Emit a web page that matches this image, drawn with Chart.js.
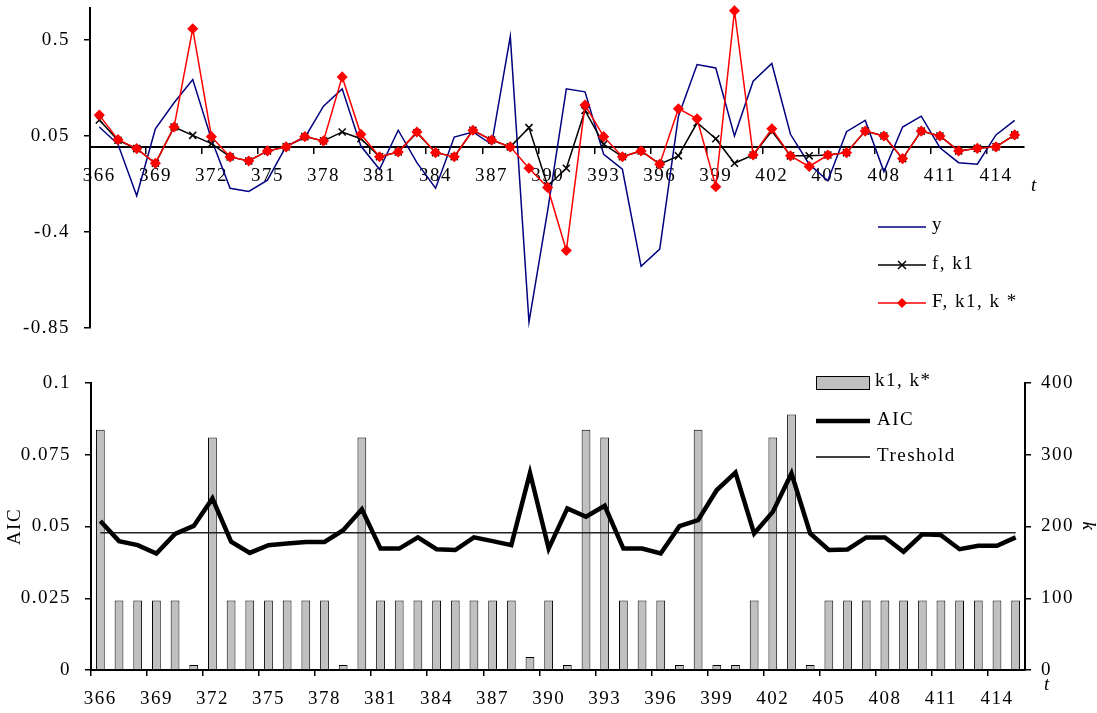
<!DOCTYPE html>
<html>
<head>
<meta charset="utf-8">
<script src="https://cdn.jsdelivr.net/npm/chart.js@4"></script>
<style>
    body { margin: 0; background: #fff; }
    #wrap { position: relative; width: 1097px; height: 713px; }
    canvas { position: absolute; left: 0; }
    #topChart { top: 0; }
    #bottomChart { top: 340px; }
</style>
</head>
<body>
<div id="wrap">
    <canvas id="topChart" width="1097" height="340"></canvas>
    <canvas id="bottomChart" width="1097" height="373"></canvas>
</div>
<script>
const tLabels = [
    "366", "367", "368", "369", "370", "371", "372", "373", "374", "375",
    "376", "377", "378", "379", "380", "381", "382", "383", "384", "385",
    "386", "387", "388", "389", "390", "391", "392", "393", "394", "395",
    "396", "397", "398", "399", "400", "401", "402", "403", "404", "405",
    "406", "407", "408", "409", "410", "411", "412", "413", "414", "415",
];

// top panel
const ySeries = [
    0.092, 0.011, -0.23, 0.084, 0.206, 0.315, 0.035, -0.195, -0.21, -0.157,
    0.003, 0.042, 0.19, 0.271, 0.003, -0.106, 0.077, -0.075, -0.195, 0.045,
    0.069, 0.011, 0.517, -0.822, -0.3, 0.271, 0.257, -0.036, -0.106, -0.561,
    -0.48, 0.143, 0.385, 0.369, 0.05, 0.307, 0.39, 0.058, -0.082, -0.16,
    0.07, 0.123, -0.117, 0.092, 0.143, -0.005, -0.075, -0.082, 0.055, 0.123,
];
const fK1 = [
    0.125, 0.03, -0.009, -0.078, 0.092, 0.053, 0.014, -0.048, -0.067, -0.02,
    -0.001, 0.047, 0.027, 0.069, 0.037, -0.047, -0.025, 0.065, -0.028, -0.047,
    0.077, 0.031, -0.001, 0.089, -0.184, -0.101, 0.17, 0.011, -0.047, -0.02,
    -0.082, -0.043, 0.112, 0.037, -0.078, -0.039, 0.073, -0.043, -0.043, -0.039,
    -0.028, 0.073, 0.05, -0.056, 0.073, 0.05, -0.02, -0.008, -0.001, 0.055,
];
const fK1Kstar = [
    0.148, 0.033, -0.009, -0.078, 0.092, 0.553, 0.047, -0.048, -0.067, -0.02,
    -0.001, 0.047, 0.027, 0.327, 0.058, -0.047, -0.025, 0.069, -0.028, -0.047,
    0.077, 0.031, -0.001, -0.101, -0.191, -0.487, 0.195, 0.047, -0.047, -0.02,
    -0.082, 0.178, 0.131, -0.188, 0.637, -0.039, 0.084, -0.043, -0.093, -0.039,
    -0.028, 0.073, 0.05, -0.056, 0.073, 0.05, -0.02, -0.008, -0.001, 0.055,
];
const topYTicks = [-0.85, -0.4, 0.05, 0.5];

// bottom panel
const kValues = [
    335, 97, 97, 97, 97, 7, 324, 97, 97, 97,
    97, 97, 97, 7, 324, 97, 97, 97, 97, 97,
    97, 97, 97, 18, 97, 7, 335, 324, 97, 97,
    97, 7, 335, 7, 7, 97, 324, 356, 7, 97,
    97, 97, 97, 97, 97, 97, 97, 97, 97, 97,
];
const aicValues = [
    0.0519, 0.0449, 0.0435, 0.0406, 0.0474, 0.0502, 0.0598, 0.0447, 0.0408, 0.0435,
    0.0441, 0.0446, 0.0446, 0.0487, 0.056, 0.0423, 0.0423, 0.0462, 0.0421, 0.0418,
    0.0462, 0.0449, 0.0435, 0.0687, 0.0423, 0.0563, 0.0534, 0.0572, 0.0423, 0.0423,
    0.0406, 0.0501, 0.0522, 0.0627, 0.0688, 0.0476, 0.0551, 0.0685, 0.0476, 0.0418,
    0.042, 0.0462, 0.0462, 0.0412, 0.0473, 0.047, 0.0421, 0.0433, 0.0433, 0.0462,
];
const thresholdValue = 0.0478;
const aicTicks = [0, 0.025, 0.05, 0.075, 0.1];

const FONT = '"Liberation Serif", "DejaVu Serif", serif';
Chart.defaults.font.family = FONT;
Chart.defaults.font.size = 19;
Chart.defaults.color = "#000";

const tickColor = (ctx) => (ctx.index % 3 === 0 ? "#000" : "rgba(0,0,0,0)");
function everyThird(val, i) {
    return i % 3 === 0 ? this.getLabelForValue(val) : "";
}

function drawText(ctx, text, x, y, italic) {
    ctx.save();
    ctx.font = (italic ? "italic " : "") + "19px " + FONT;
    ctx.fillStyle = "#000";
    ctx.textAlign = "left";
    ctx.textBaseline = "middle";
    ctx.fillText(text, x, y);
    ctx.restore();
}

function drawLine(ctx, x1, x2, y, color, width) {
    ctx.save();
    ctx.strokeStyle = color;
    ctx.lineWidth = width;
    ctx.beginPath();
    ctx.moveTo(x1, y);
    ctx.lineTo(x2, y);
    ctx.stroke();
    ctx.restore();
}

const spacing = {
    id: "spacing",
    beforeDraw(chart) {
        chart.ctx.letterSpacing = "1.5px";
    },
};

const topLegend = {
    id: "topLegend",
    afterDraw(chart) {
        const ctx = chart.ctx;
        drawLine(ctx, 878, 926, 227, "#000080", 1.5);
        drawText(ctx, "y", 932, 225);

        drawLine(ctx, 878, 926, 265, "#000", 1.5);
        ctx.save();
        ctx.strokeStyle = "#000";
        ctx.lineWidth = 1.5;
        ctx.beginPath();
        ctx.moveTo(898, 261); ctx.lineTo(906, 269);
        ctx.moveTo(906, 261); ctx.lineTo(898, 269);
        ctx.stroke();
        ctx.restore();
        drawText(ctx, "f, k1", 932, 264);

        drawLine(ctx, 878, 926, 303, "#ff0000", 1.5);
        ctx.save();
        ctx.fillStyle = "#ff0000";
        ctx.beginPath();
        ctx.moveTo(902, 298); ctx.lineTo(907, 303);
        ctx.lineTo(902, 308); ctx.lineTo(897, 303);
        ctx.closePath();
        ctx.fill();
        ctx.restore();
        drawText(ctx, "F, k1, k *", 932, 302);

        drawText(ctx, "t", 1031, 186, true);
    },
};

const bottomLegend = {
    id: "bottomLegend",
    afterDraw(chart) {
        const ctx = chart.ctx;
        ctx.save();
        ctx.fillStyle = "#c0c0c0";
        ctx.strokeStyle = "#000";
        ctx.lineWidth = 1;
        ctx.fillRect(816.5, 36.5, 53, 13);
        ctx.strokeRect(816.5, 36.5, 53, 13);
        ctx.restore();
        drawText(ctx, "k1, k*", 875, 41);

        drawLine(ctx, 816, 870, 81, "#000", 4.5);
        drawText(ctx, "AIC", 877, 80);

        drawLine(ctx, 816, 870, 117, "#000", 1.5);
        drawText(ctx, "Treshold", 877, 116);

        drawText(ctx, "t", 1044, 345, true);
    },
};

// keep tick-label overflow from pushing the plot area inward
function fixWidth(w) {
    return (s) => {
        s.width = w;
        s.paddingTop = 0;
        s.paddingBottom = 0;
    };
}

document.addEventListener("DOMContentLoaded", () => {
    // Top chart
    new Chart(document.getElementById("topChart"), {
        type: "line",
        data: {
            labels: tLabels,
            datasets: [
                {
                    label: "y",
                    data: ySeries,
                    borderColor: "#000080",
                    borderWidth: 1.5,
                    pointRadius: 0,
                    tension: 0,
                    order: 3,
                    clip: false,
                },
                {
                    label: "f, k1",
                    data: fK1,
                    borderColor: "#000",
                    borderWidth: 1.5,
                    pointStyle: "crossRot",
                    pointRadius: 5,
                    pointBorderColor: "#000",
                    pointBorderWidth: 1.5,
                    tension: 0,
                    order: 2,
                    clip: false,
                },
                {
                    label: "F, k1, k *",
                    data: fK1Kstar,
                    borderColor: "#ff0000",
                    borderWidth: 1.5,
                    pointStyle: "rectRot",
                    pointRadius: 4.5,
                    pointBackgroundColor: "#ff0000",
                    pointBorderColor: "#ff0000",
                    tension: 0,
                    order: 1,
                    clip: false,
                },
            ],
        },
        options: {
            responsive: false,
            animation: false,
            devicePixelRatio: 1,
            layout: { padding: { left: 0, right: 73, top: 8, bottom: 12 } },
            plugins: { legend: { display: false }, tooltip: { enabled: false } },
            scales: {
                x: {
                    type: "category",
                    position: { y: 0 },
                    offset: true,
                    grid: {
                        offset: true,
                        drawOnChartArea: false,
                        tickLength: 6,
                        lineWidth: 1.5,
                        color: tickColor,
                    },
                    border: { color: "#000", width: 2 },
                    ticks: {
                        autoSkip: false,
                        maxRotation: 0,
                        padding: 12,
                        callback: everyThird,
                    },
                },
                y: {
                    min: -0.85,
                    max: 0.65,
                    afterBuildTicks: (s) => {
                        s.ticks = topYTicks.map((v) => ({ value: v }));
                    },
                    afterFit: fixWidth(90),
                    grid: {
                        drawOnChartArea: false,
                        tickLength: 6,
                        lineWidth: 1.5,
                        color: "#000",
                    },
                    border: { color: "#000", width: 2 },
                    ticks: {
                        padding: 14,
                        callback: (v) => String(v),
                    },
                },
            },
        },
        plugins: [spacing, topLegend],
    });

    // Bottom chart
    new Chart(document.getElementById("bottomChart"), {
        type: "bar",
        data: {
            labels: tLabels,
            datasets: [
                {
                    type: "line",
                    label: "AIC",
                    data: aicValues,
                    yAxisID: "y",
                    borderColor: "#000",
                    borderWidth: 4.5,
                    pointRadius: 0,
                    tension: 0,
                    order: 1,
                },
                {
                    type: "line",
                    label: "Treshold",
                    data: tLabels.map(() => thresholdValue),
                    yAxisID: "y",
                    borderColor: "#222",
                    borderWidth: 1.5,
                    pointRadius: 0,
                    order: 2,
                },
                {
                    type: "bar",
                    label: "k1, k*",
                    data: kValues,
                    yAxisID: "y1",
                    backgroundColor: "#c0c0c0",
                    borderColor: "#000",
                    borderWidth: 1,
                    barPercentage: 0.47,
                    categoryPercentage: 1,
                    order: 3,
                },
            ],
        },
        options: {
            responsive: false,
            animation: false,
            devicePixelRatio: 1,
            layout: { padding: { left: 0, right: 0, top: 43, bottom: 0 } },
            plugins: { legend: { display: false }, tooltip: { enabled: false } },
            scales: {
                x: {
                    type: "category",
                    position: "bottom",
                    offset: true,
                    afterFit: (s) => {
                        s.height = 43;
                    },
                    grid: {
                        offset: true,
                        drawOnChartArea: false,
                        tickLength: 6,
                        lineWidth: 1.5,
                        color: tickColor,
                    },
                    border: { color: "#000", width: 2 },
                    ticks: {
                        autoSkip: false,
                        maxRotation: 0,
                        padding: 12,
                        callback: everyThird,
                    },
                },
                y: {
                    position: "left",
                    min: 0,
                    max: 0.1,
                    afterBuildTicks: (s) => {
                        s.ticks = aicTicks.map((v) => ({ value: v }));
                    },
                    afterFit: fixWidth(91),
                    grid: {
                        drawOnChartArea: false,
                        tickLength: 6,
                        lineWidth: 1.5,
                        color: "#000",
                    },
                    border: { color: "#000", width: 2 },
                    ticks: {
                        padding: 14,
                        callback: (v) => String(v),
                    },
                    title: {
                        display: true,
                        text: "AIC",
                        font: { size: 19, lineHeight: 1 },
                        padding: { top: 6, bottom: 0 },
                    },
                },
                y1: {
                    position: "right",
                    min: 0,
                    max: 400,
                    ticks: { stepSize: 100, padding: 10 },
                    afterFit: fixWidth(72),
                    grid: {
                        drawOnChartArea: false,
                        tickLength: 6,
                        lineWidth: 1.5,
                        color: "#000",
                    },
                    border: { color: "#000", width: 2 },
                    title: {
                        display: true,
                        text: "k",
                        font: { size: 19, style: "italic", lineHeight: 1 },
                        padding: { top: 0, bottom: 0 },
                    },
                },
            },
        },
        plugins: [spacing, bottomLegend],
    });
});
</script>
</body>
</html>
